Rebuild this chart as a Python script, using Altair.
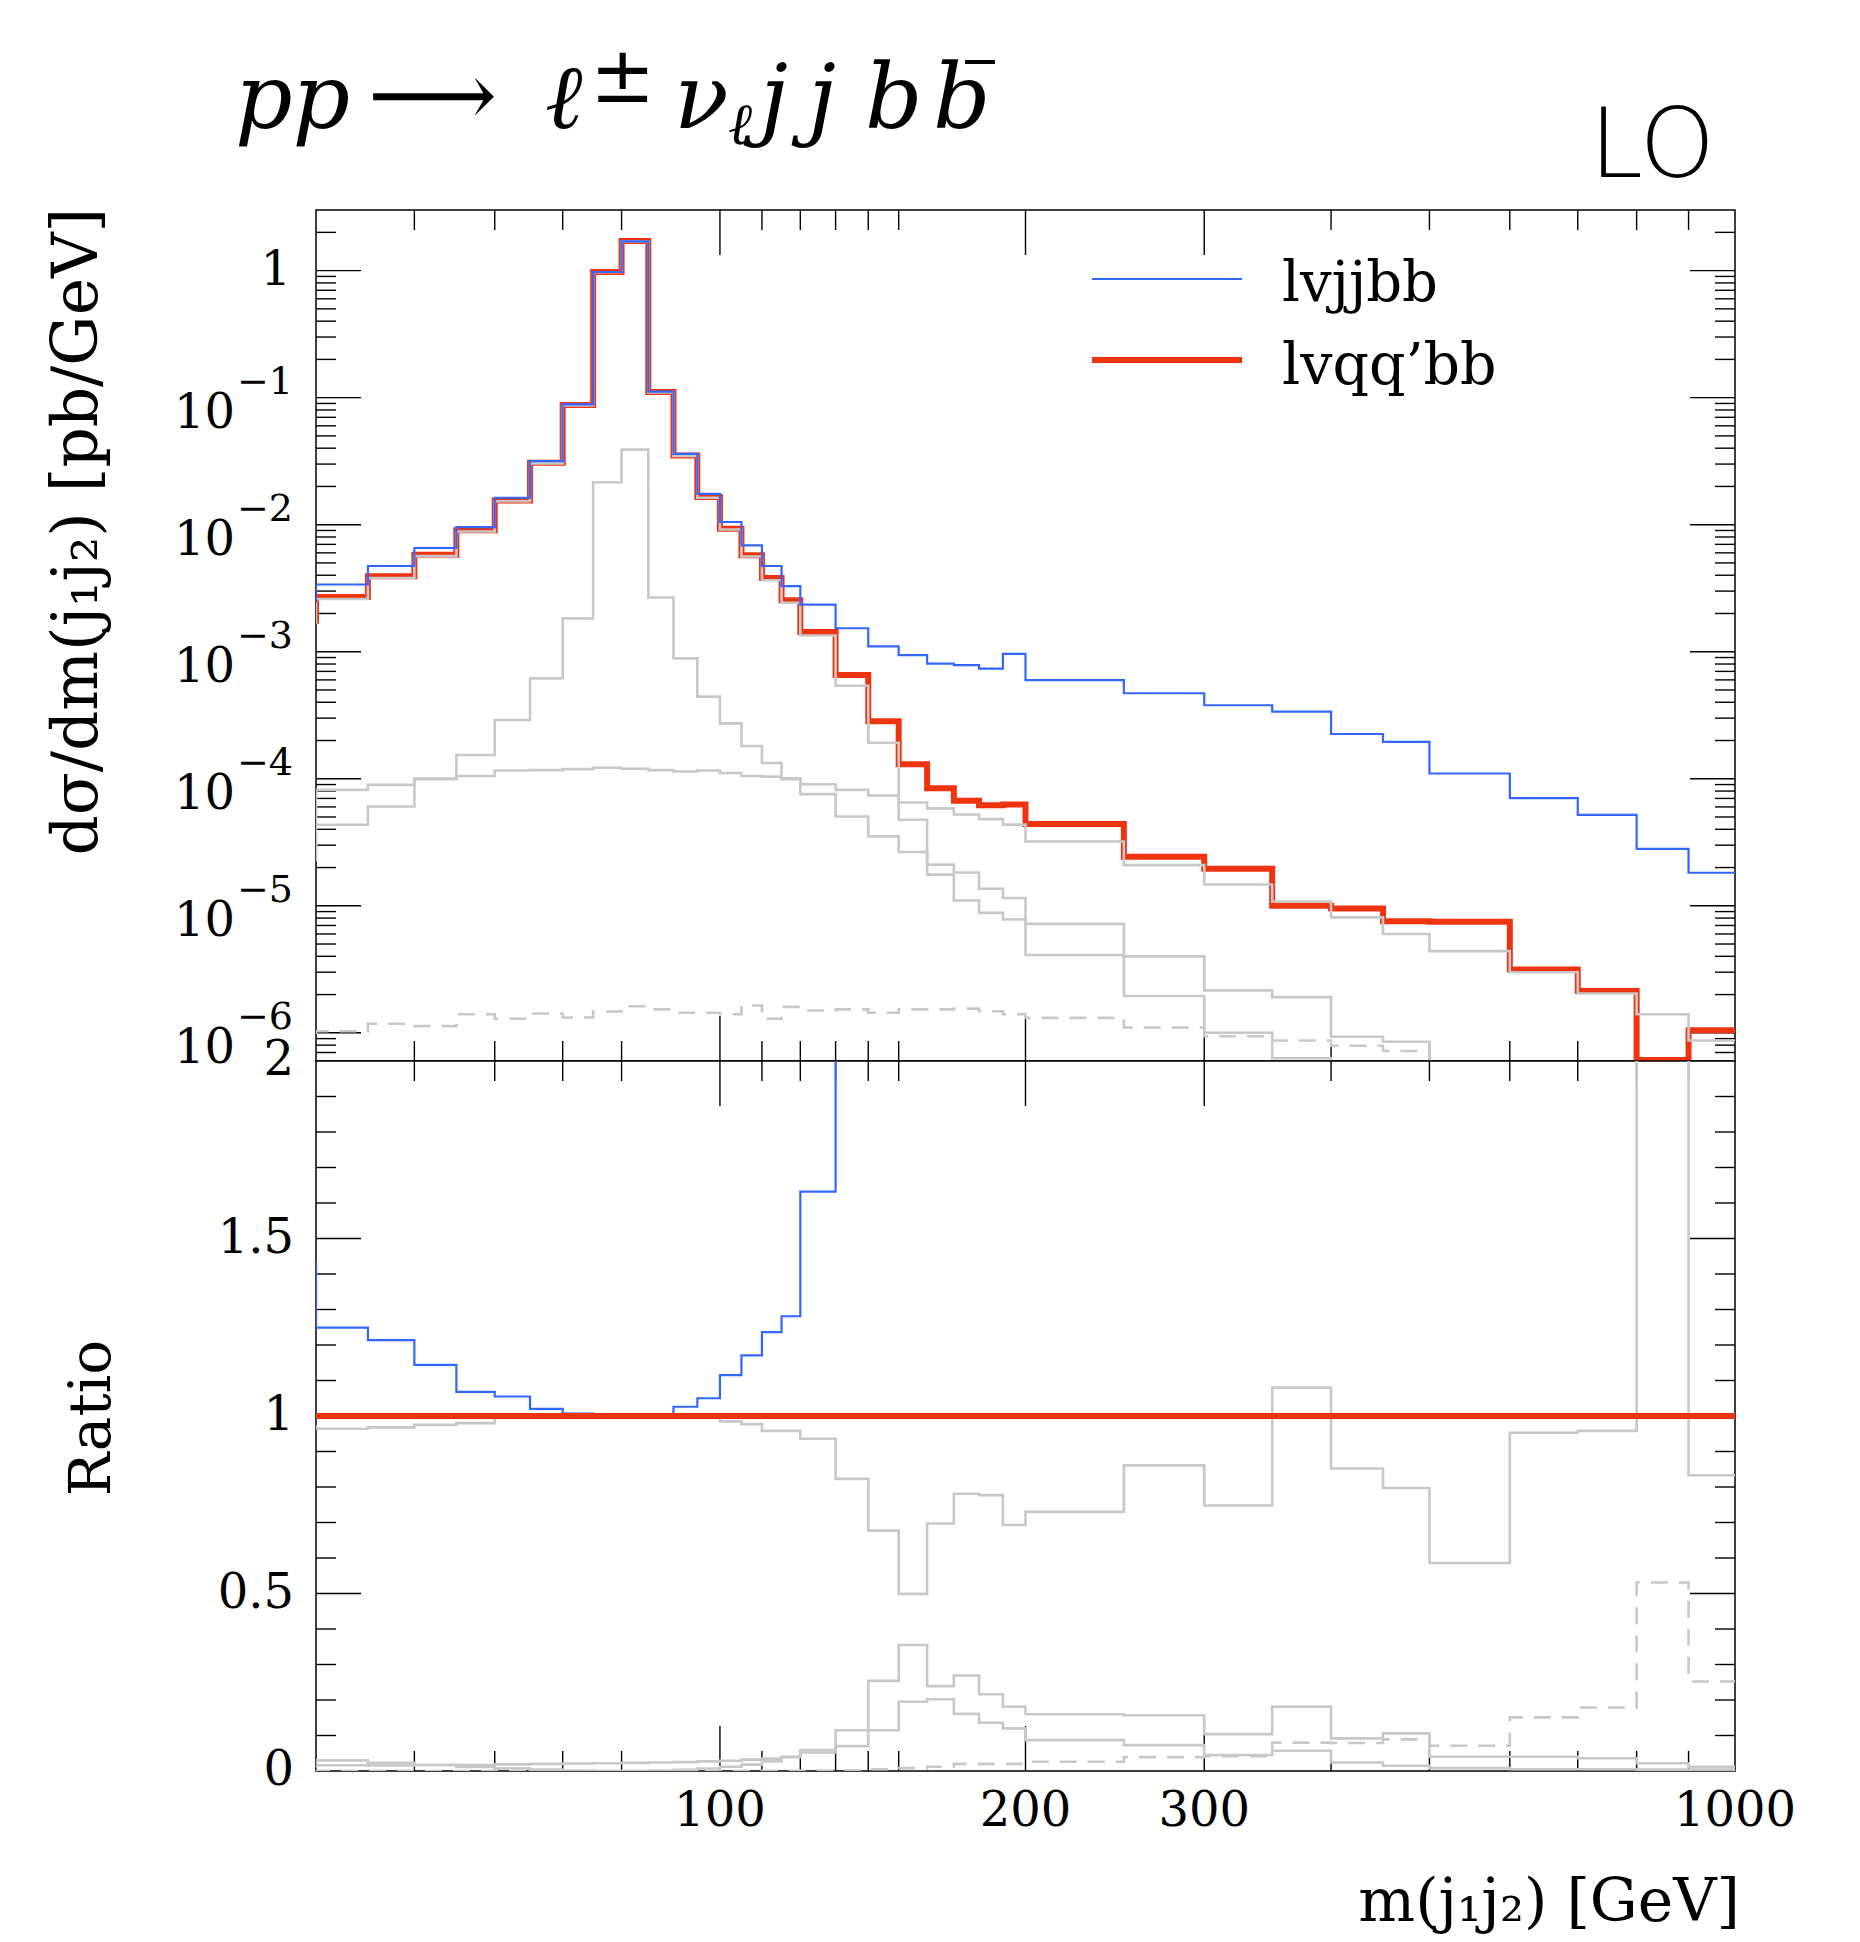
import altair as alt
import pandas as pd

# ---------------- data ----------------
bin_edges = [35, 40, 45, 50, 55, 60, 65, 70, 75, 80, 85, 90, 95, 100, 105, 110, 115, 120,
             130, 140, 150, 160, 170, 180, 190, 200, 250, 300, 350, 400, 450, 500,
             600, 700, 800, 900, 1000]

series_names = ["lvjjbb", "lvqq'bb"]
legend_labels = ["lvjjbb", "lvqq\u2019bb"]

blue_top = [2.5e-3, 3.38e-3, 4.73e-3, 6.55e-3, 9.57e-3, 1.63e-2, 3.16e-2, 8.85e-2, 0.975, 1.70,
            0.1115, 0.0361, 0.0175, 0.0105, 6.88e-3, 4.73e-3, 3.28e-3, 2.35e-3, 1.53e-3, 1.10e-3,
            9.4e-4, 8.05e-4, 7.85e-4, 7.36e-4, 9.6e-4, 5.98e-4, 4.71e-4, 3.79e-4, 3.37e-4, 2.25e-4,
            1.95e-4, 1.10e-4, 7.04e-5, 5.2e-5, 2.81e-5, 1.82e-5]
red_top = [1.75e-3, 2.70e-3, 3.93e-3, 5.81e-3, 9.02e-3, 1.55e-2, 3.07e-2, 8.77e-2, 0.977, 1.71,
           0.111, 0.035, 0.0165, 9.3e-3, 5.74e-3, 3.81e-3, 2.54e-3, 1.43e-3, 6.55e-4, 2.83e-4,
           1.30e-4, 8.4e-5, 6.7e-5, 6.19e-5, 6.28e-5, 4.4e-5, 2.43e-5, 1.96e-5, 1.00e-5, 9.5e-6,
           7.55e-6, 7.5e-6, 3.15e-6, 2.13e-6, 6.1e-7, 1.05e-6]
grey_main_top = [1.7e-3, 2.60e-3, 3.80e-3, 5.66e-3, 8.84e-3, 1.53e-2, 3.04e-2, 8.7e-2, 0.972, 1.70,
                 0.110, 0.0347, 0.0163, 9.16e-3, 5.61e-3, 3.65e-3, 2.43e-3, 1.34e-3, 5.39e-4, 1.92e-4,
                 6.5e-5, 5.85e-5, 5.23e-5, 4.81e-5, 4.35e-5, 3.21e-5, 2.09e-5, 1.47e-5, 1.08e-5, 8.1e-6,
                 6.0e-6, 4.4e-6, 3.0e-6, 2.04e-6, 1.4e-6, 8.7e-7]
grey_peak_top = [2.3e-5, 4.34e-5, 6.05e-5, 9.97e-5, 1.54e-4, 2.9e-4, 6.17e-4, 1.83e-3, 2.16e-2, 3.9e-2,
                 2.67e-3, 8.86e-4, 4.43e-4, 2.73e-4, 1.81e-4, 1.33e-4, 1.01e-4, 7.57e-5, 5.05e-5, 3.52e-5,
                 2.65e-5, 1.76e-5, 1.10e-5, 8.8e-6, 7.8e-6, 4.1e-6, 1.95e-6, 1.0e-6, 6.3e-7, 2.3e-7,
                 1.1e-7, 6e-8, 2e-8, 1e-8, 1e-8, 1e-8]
grey_flat_top = [4.4e-5, 8.18e-5, 8.95e-5, 9.97e-5, 1.05e-4, 1.16e-4, 1.17e-4, 1.19e-4, 1.22e-4, 1.20e-4,
                 1.17e-4, 1.14e-4, 1.16e-4, 1.11e-4, 1.05e-4, 1.04e-4, 9.93e-5, 9.06e-5, 8.18e-5, 7.38e-5,
                 4.75e-5, 2.11e-5, 1.83e-5, 1.36e-5, 1.15e-5, 7.2e-6, 4.0e-6, 2.16e-6, 1.91e-6, 9.3e-7,
                 8.5e-7, 3e-7, 1.3e-7, 8e-8, 3e-8, 1.3e-8]
grey_dash_top = [1.0e-6, 1.03e-6, 1.18e-6, 1.13e-6, 1.40e-6, 1.29e-6, 1.42e-6, 1.32e-6, 1.47e-6, 1.62e-6,
                 1.53e-6, 1.44e-6, 1.44e-6, 1.40e-6, 1.64e-6, 1.29e-6, 1.60e-6, 1.50e-6, 1.53e-6, 1.44e-6,
                 1.53e-6, 1.53e-6, 1.55e-6, 1.48e-6, 1.40e-6, 1.31e-6, 1.10e-6, 9.4e-7, 8.7e-7, 7.9e-7,
                 7.2e-7, 5.3e-7, 4.8e-7, 3.8e-7, 3.0e-7, 2.6e-7]

blue_ratio = [1.434, 1.249, 1.214, 1.144, 1.068, 1.055, 1.020, 1.007, 0.997, 0.997, 1.003, 1.026,
              1.05, 1.115, 1.171, 1.236, 1.281, 1.632, 2.34, 3.9, 7.2, 9.6, 11.7, 11.9, 15.3, 13.6,
              19.4, 19.3, 33.7, 23.7, 25.8, 14.7, 22.3, 24.4, 46.0, 17.3]
red_ratio = [1.0] * 36
grey_main_ratio = [0.97, 0.964, 0.968, 0.975, 0.980, 0.995, 0.995, 0.995, 0.995, 0.995, 0.995, 0.995,
                   0.995, 0.985, 0.977, 0.958, 0.958, 0.936, 0.823, 0.677, 0.499, 0.697, 0.781, 0.777,
                   0.693, 0.73, 0.861, 0.748, 1.08, 0.852, 0.797, 0.586, 0.953, 0.958, 2.3, 0.833]
grey_peak_ratio = [0.013, 0.016, 0.0154, 0.017, 0.017, 0.0187, 0.020, 0.021, 0.022, 0.023, 0.024,
                   0.025, 0.027, 0.029, 0.032, 0.035, 0.040, 0.052, 0.070, 0.115, 0.195, 0.202,
                   0.161, 0.136, 0.120, 0.087, 0.073, 0.045, 0.057, 0.024, 0.015, 0.008, 0.005,
                   0.005, 0.004, 0.004]
grey_flat_ratio = [0.025, 0.030, 0.023, 0.017, 0.0116, 0.0075, 0.0038, 0.0014, 0.0001, 0.0001, 0.001,
                   0.0033, 0.007, 0.012, 0.018, 0.027, 0.039, 0.059, 0.115, 0.254, 0.355, 0.239,
                   0.269, 0.216, 0.181, 0.160, 0.157, 0.104, 0.181, 0.092, 0.106, 0.040, 0.040,
                   0.036, 0.022, 0.012]
grey_dash_ratio = [0.0006, 0.0004, 0.0003, 0.0002, 0.00015, 0.0001, 0.00005, 0.00002, 0.0, 0.0,
                   0.00001, 0.00004, 0.0001, 0.00015, 0.0003, 0.0003, 0.0006, 0.001, 0.002, 0.005,
                   0.008, 0.012, 0.02, 0.02, 0.02, 0.026, 0.039, 0.042, 0.080, 0.079, 0.089, 0.071,
                   0.151, 0.179, 0.531, 0.252]

x_major_ticks = [100, 200, 300]
x_minor_ticks = [50, 60, 70, 80, 110, 120, 130, 140, 150, 400, 500, 600, 700, 800, 900]
x_tick_labels = [100, 200, 300, 1000]
y_top_exponents = [-1, -2, -3, -4, -5, -6]
ratio_labels = [0, 0.5, 1, 1.5, 2]

# ---------------- geometry / style ----------------
W, HT, HR = 1419, 851, 710
RED, BLUE, GREY = "#ee3311", "#3366ff", "#c8c8c8"
FONT = "DejaVu Serif"
TICK_FS, SUP_FS = 48, 38

xs = alt.Scale(type="log", domain=[40, 1000], nice=False)
yts = alt.Scale(type="log", domain=[6e-7, 3], nice=False)
yrs = alt.Scale(type="linear", domain=[0, 2], nice=False, zero=False)


def steps(values, name):
    rows = [{"edge": e, "value": v, "series": name} for e, v in zip(bin_edges[:-1], values)]
    rows.append({"edge": bin_edges[-1], "value": values[-1], "series": name})
    return pd.DataFrame(rows)


def step_layer(values, yscale, color, width, dash=None):
    kw = dict(interpolate="step-after", clip=True, color=color, strokeWidth=width,
              strokeJoin="miter", strokeCap="butt")
    if dash:
        kw["strokeDash"] = dash
    return alt.Chart(steps(values, color)).mark_line(**kw).encode(
        x=alt.X("edge:Q", scale=xs, axis=None),
        y=alt.Y("value:Q", scale=yscale, axis=None),
    )


def hticks(vals, yscale, length):
    df = pd.DataFrame({"v": vals})
    out = []
    for x0, x1 in [(0, length), (W - length, W)]:
        out.append(alt.Chart(df).mark_rule(color="black", strokeWidth=1.4).encode(
            y=alt.Y("v:Q", scale=yscale, axis=None), x=alt.value(x0), x2=alt.value(x1)))
    return out


def vticks(vals, length, H):
    df = pd.DataFrame({"v": vals})
    out = []
    for y0, y1 in [(0, length), (H - length, H)]:
        out.append(alt.Chart(df).mark_rule(color="black", strokeWidth=1.4).encode(
            x=alt.X("v:Q", scale=xs, axis=None), y=alt.value(y0), y2=alt.value(y1)))
    return out


def text(t, x, y, size, align="left", baseline="alphabetic", angle=0, font=FONT,
         style="normal", weight="normal"):
    return alt.Chart(alt.Data(values=[{"t": t}])).mark_text(
        align=align, baseline=baseline, fontSize=size, font=font, fontStyle=style,
        fontWeight=weight, angle=angle, color="black").encode(
        x=alt.value(x), y=alt.value(y), text="t:N")


def frame(H):
    return alt.Chart(alt.Data(values=[{}])).mark_rect(
        fill="white", stroke="black", strokeWidth=1.5).encode(
        x=alt.value(0), x2=alt.value(W), y=alt.value(0), y2=alt.value(H))


def anchor(x, y):
    return alt.Chart(alt.Data(values=[{}])).mark_rule(color="white", strokeWidth=1).encode(
        x=alt.value(x), x2=alt.value(x + 2), y=alt.value(y), y2=alt.value(y))


# ---------------- top panel ----------------
y_major = [10.0 ** e for e in range(-6, 1)]
y_minor = [k * 10.0 ** n for n in range(-7, 1) for k in range(2, 10) if 6e-7 < k * 10.0 ** n < 3]

top_layers = [frame(HT)]
top_layers += hticks(y_major, yts, 45) + hticks(y_minor, yts, 20)
top_layers += vticks(x_major_ticks, 45, HT) + vticks(x_minor_ticks, 20, HT)
top_layers += [
    step_layer(red_top, yts, RED, 6),
    step_layer(grey_main_top, yts, GREY, 2.6),
    step_layer(grey_peak_top, yts, GREY, 2.6),
    step_layer(grey_flat_top, yts, GREY, 2.6),
    step_layer(grey_dash_top, yts, GREY, 2.6, dash=[17, 11]),
    step_layer(blue_top, yts, BLUE, 2.2),
]

# legend
top_layers.append(alt.Chart(alt.Data(values=[{}])).mark_rule(color=BLUE, strokeWidth=2.2).encode(
    x=alt.value(776), x2=alt.value(926), y=alt.value(69)))
top_layers.append(alt.Chart(alt.Data(values=[{}])).mark_rule(color=RED, strokeWidth=6).encode(
    x=alt.value(776), x2=alt.value(926), y=alt.value(150)))
top_layers.append(text(legend_labels[0], 966, 91, 56))
top_layers.append(text(legend_labels[1], 966, 174, 57))

# y tick labels (log)
ylab = pd.DataFrame({"v": [10.0 ** e for e in y_top_exponents],
                     "sup": ["\u2212" + str(-e) for e in y_top_exponents]})
top_layers.append(alt.Chart(ylab).mark_text(align="right", baseline="middle", dy=16,
                                            fontSize=TICK_FS, font=FONT).encode(
    y=alt.Y("v:Q", scale=yts, axis=None), x=alt.value(-81), text=alt.value("10")))
top_layers.append(alt.Chart(ylab).mark_text(align="left", baseline="middle", dy=-15,
                                            fontSize=SUP_FS, font=FONT).encode(
    y=alt.Y("v:Q", scale=yts, axis=None), x=alt.value(-79), text="sup:N"))
top_layers.append(alt.Chart(pd.DataFrame({"v": [1.0]})).mark_text(
    align="right", baseline="middle", fontSize=TICK_FS, font=FONT).encode(
    y=alt.Y("v:Q", scale=yts, axis=None), x=alt.value(-25), text=alt.value("1")))

# y title
top_layers.append(text("d\u03c3/dm(j\u2081j\u2082) [pb/GeV]", -238, -2, 63,
                       align="right", baseline="middle", angle=270))

# main title pieces
TS = 90
top_layers += [
    text("pp", -81, -82, TS, style="italic"),
    text("\u27f6", 52, -84, TS),
    text("\u2113", 229, -82, TS, style="italic"),
    text("\u00b1", 274, -108, 78),
    text("\u03bd", 358, -82, TS, style="italic"),
    text("\u2113", 412, -66, 58, style="italic"),
    text("j", 444, -82, TS, style="italic"),
    text("j", 492, -82, TS, style="italic"),
    text("b", 549, -82, TS, style="italic"),
    text("b", 617, -82, TS, style="italic"),
]
top_layers.append(alt.Chart(alt.Data(values=[{}])).mark_rule(color="black", strokeWidth=4).encode(
    x=alt.value(649), x2=alt.value(679), y=alt.value(-148)))
top_layers.append(text("LO", 1399, -33, 96, align="right", font="DejaVu Sans", weight=200))

# anchor fixing the plot origin on the page
top_layers.append(anchor(-315.5, -209.5))

top = alt.layer(*top_layers).properties(width=W, height=HT)

# ---------------- ratio panel ----------------
r_major = [0.5, 1.0, 1.5]
r_minor = [round(0.1 * i, 1) for i in range(1, 20) if i not in (5, 10, 15)]

bot_layers = [frame(HR)]
bot_layers += hticks(r_major, yrs, 45) + hticks(r_minor, yrs, 20)
bot_layers += vticks(x_major_ticks, 45, HR) + vticks(x_minor_ticks, 20, HR)
bot_layers += [
    step_layer(grey_main_ratio, yrs, GREY, 2.6),
    step_layer(grey_peak_ratio, yrs, GREY, 2.6),
    step_layer(grey_flat_ratio, yrs, GREY, 2.6),
    step_layer(grey_dash_ratio, yrs, GREY, 2.6, dash=[17, 11]),
    step_layer(blue_ratio, yrs, BLUE, 2.2),
    step_layer(red_ratio, yrs, RED, 6),
]
rlab = pd.DataFrame({"v": ratio_labels, "t": ["0", "0.5", "1", "1.5", "2"]})
bot_layers.append(alt.Chart(rlab).mark_text(align="right", baseline="middle",
                                            fontSize=TICK_FS, font=FONT).encode(
    y=alt.Y("v:Q", scale=yrs, axis=None), x=alt.value(-22), text="t:N"))
xlab = pd.DataFrame({"v": x_tick_labels, "t": [str(v) for v in x_tick_labels]})
bot_layers.append(alt.Chart(xlab).mark_text(align="center", baseline="middle",
                                            fontSize=TICK_FS, font=FONT).encode(
    x=alt.X("v:Q", scale=xs, axis=None), y=alt.value(751), text="t:N"))
bot_layers.append(text("m(j\u2081j\u2082) [GeV]", 1424, 860, 60, align="right"))
bot_layers.append(text("Ratio", -223, 357, 58, align="center", baseline="middle", angle=270))
bot_layers.append(anchor(1400, 879))

bottom = alt.layer(*bot_layers).properties(width=W, height=HR)

chart = alt.vconcat(top, bottom, spacing=0, bounds="flush").properties(
    padding=0, background="white").configure_view(strokeWidth=0)

chart.save("out.html", embed_options={"renderer": "svg", "actions": False})
